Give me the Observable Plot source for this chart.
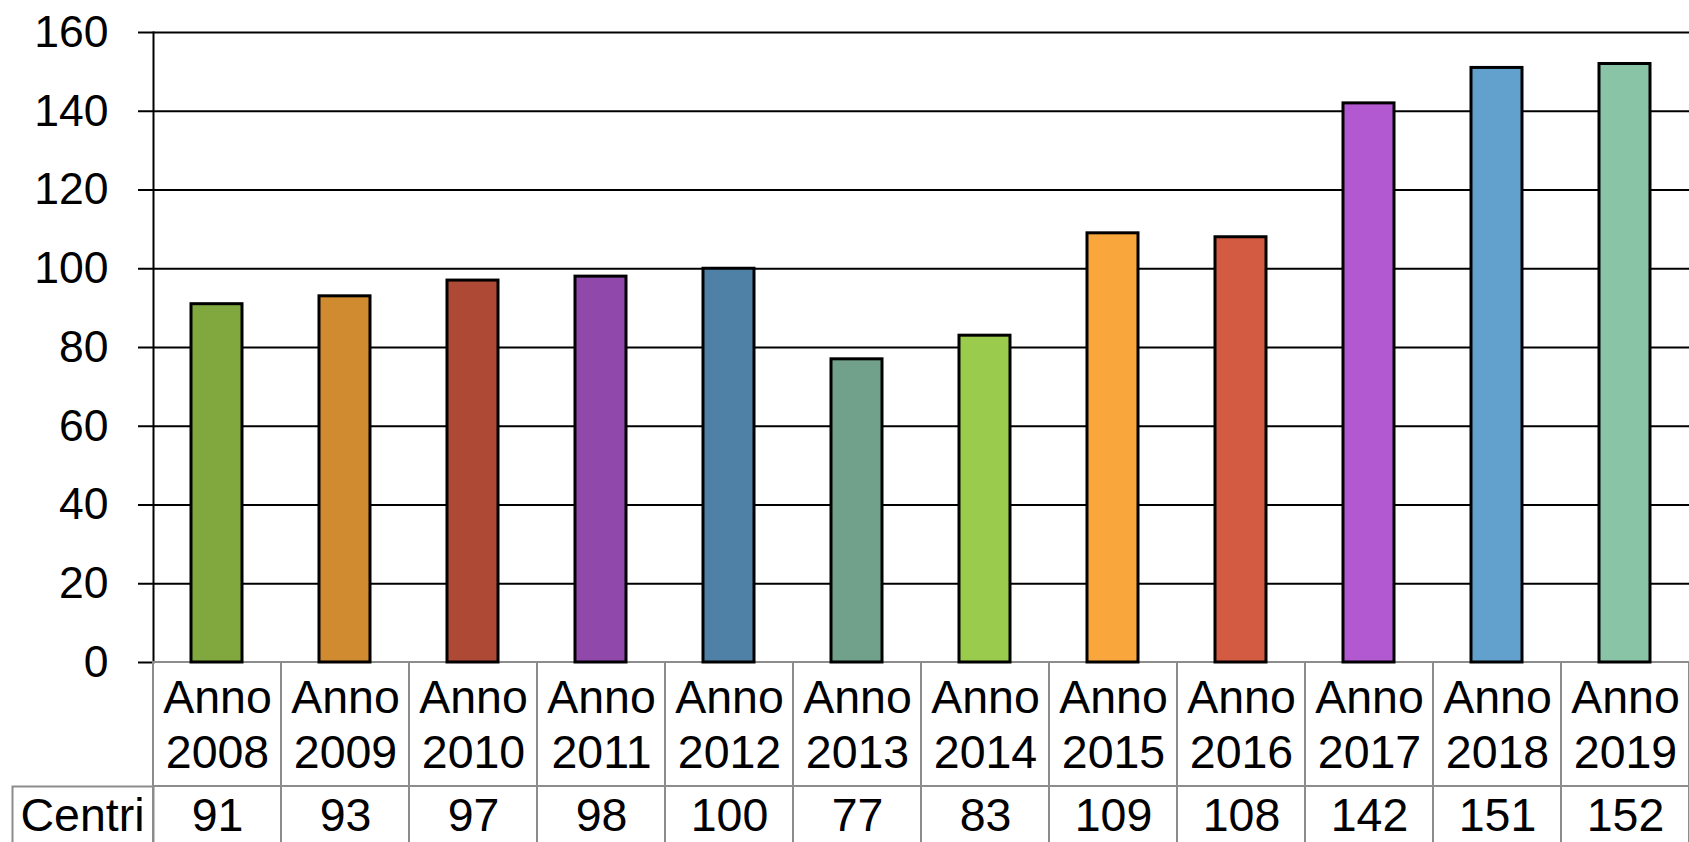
<!DOCTYPE html>
<html>
<head>
<meta charset="utf-8">
<script src="https://cdn.jsdelivr.net/npm/d3@7"></script>
<script src="https://cdn.jsdelivr.net/npm/@observablehq/plot@0.6"></script>
<style>
  html, body { margin: 0; padding: 0; background: white; }
</style>
</head>
<body>
<div id="chart"></div>
<script>
const years = ["2008","2009","2010","2011","2012","2013","2014","2015","2016","2017","2018","2019"];
const centri = [91, 93, 97, 98, 100, 77, 83, 109, 108, 142, 151, 152];
const palette = ["#80a83f","#d08a30","#ae4935","#9049ab","#4f81a7","#71a18a","#9acb4c","#f9a73c","#d35b42","#b258d1","#62a1cd","#89c4a7"];
const yTicks = [0, 20, 40, 60, 80, 100, 120, 140, 160];
const rowLabel = "Centri";
const catPrefix = "Anno";

const data = years.map((y, i) => ({year: y, label: catPrefix + "\n" + y, value: centri[i]}));
const tableStroke = "#8c8c8c";
const font = 46.5;

const chart = Plot.plot({
  width: 1689,
  height: 842,
  marginLeft: 153,
  marginRight: 0,
  marginTop: 32,
  marginBottom: 180,
  style: {fontFamily: "'Liberation Sans', Arial, sans-serif", background: "white", color: "black"},
  x: {domain: years, padding: 0, axis: null},
  y: {domain: [0, 160], axis: null},
  color: {domain: years, range: palette},
  marks: [
    Plot.gridY(yTicks.filter(d => d > 0), {stroke: "black", strokeOpacity: 1, strokeWidth: 2}),
    Plot.axisY(yTicks, {tickSize: 15, tickPadding: 30, fontSize: 44.5, stroke: "black", strokeWidth: 2, label: null}),
    Plot.frame({anchor: "left", stroke: "black", strokeWidth: 2}),
    Plot.cell(data, {x: "year", fill: "none", stroke: tableStroke, strokeWidth: 2, insetTop: 630, insetBottom: -124}),
    Plot.cell(data, {x: "year", fill: "none", stroke: tableStroke, strokeWidth: 2, insetTop: 754, insetBottom: -190}),
    Plot.frame({stroke: tableStroke, strokeWidth: 2, insetLeft: -141, insetRight: 1536, insetTop: 754, insetBottom: -190}),
    Plot.barY(data, {x: "year", y: "value", fill: "year", stroke: "black", strokeWidth: 3, insetLeft: 38, insetRight: 39}),
    Plot.text(data, {x: "year", text: "label", frameAnchor: "bottom", lineAnchor: "top", dy: 11, lineHeight: 1.19, fontSize: font, fill: "black"}),
    Plot.text(data, {x: "year", text: d => String(d.value), frameAnchor: "bottom", lineAnchor: "top", dy: 135, fontSize: font, fill: "black"}),
    Plot.text([rowLabel], {text: d => d, frameAnchor: "bottom-left", textAnchor: "middle", dx: -71, dy: 135, lineAnchor: "top", fontSize: font, fill: "black"})
  ]
});
document.getElementById("chart").appendChild(chart);
</script>
</body>
</html>
